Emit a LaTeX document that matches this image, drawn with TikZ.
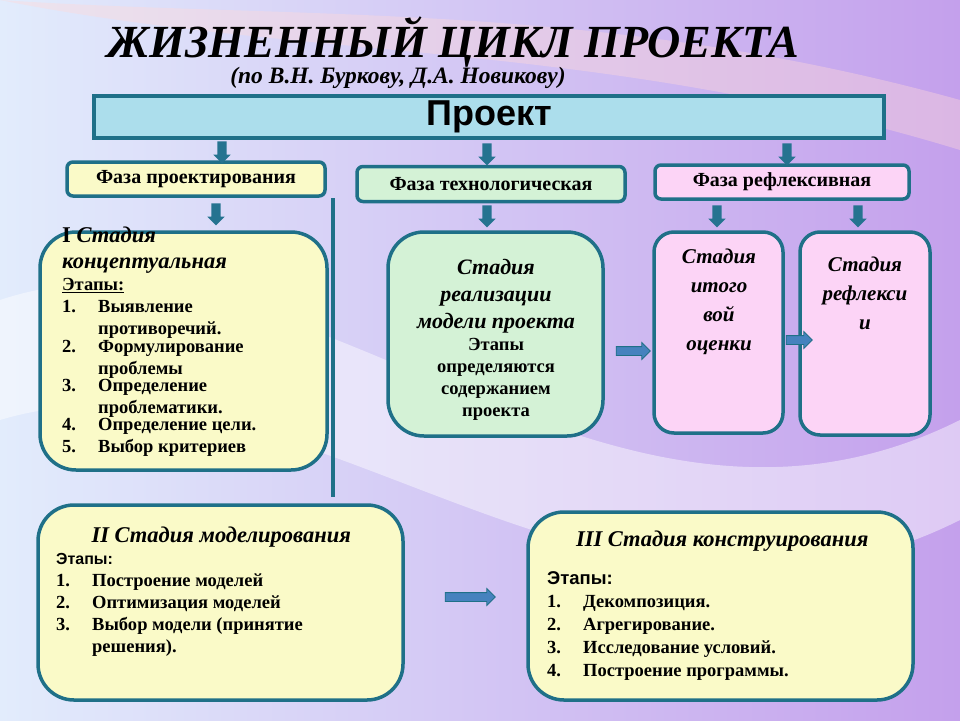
\documentclass[tikz,border=0pt]{standalone}
\usepackage{fontspec}
\setmainfont{Liberation Serif}
\newfontfamily\hsans{Liberation Sans}
\usetikzlibrary{shapes.arrows}
\definecolor{tealb}{RGB}{31,112,136}
\definecolor{yel}{RGB}{250,250,200}
\definecolor{grn}{RGB}{212,242,214}
\definecolor{pnk}{RGB}{252,212,246}
\definecolor{bar}{RGB}{172,222,236}
\definecolor{bgA}{RGB}{226,236,252}
\definecolor{bgB}{RGB}{196,160,236}
\definecolor{arw}{RGB}{70,130,190}
\tikzset{
 box/.style={draw=tealb,line width=3.5pt},
 phase/.style={box,rounded corners=6pt,font=\bfseries\fontsize{20}{22}\selectfont,align=center},
 stage/.style={box,rounded corners=36pt},
 darr/.style={single arrow,fill=tealb!85!arw,draw=none,minimum height=22pt,single arrow head extend=4pt,rotate=-90,inner sep=4.5pt},
 rarr/.style={single arrow,fill=arw,draw=tealb,line width=0.8pt,single arrow head extend=4pt,inner sep=4pt},
 txt/.style={font=\bfseries\fontsize{18.5}{22}\selectfont},
 ital/.style={font=\bfseries\itshape\fontsize{21}{29}\selectfont,align=center}
}
\newcommand{\itm}[2]{\makebox[36pt][l]{#1}\parbox[t]{240pt}{#2}}
\begin{document}
\begin{tikzpicture}[x=1pt,y=-1pt]
\shade[left color=bgA,right color=bgB] (0,0) rectangle (960,720);
\fill[white,opacity=0.45] (0,300) .. controls (300,200) and (600,600) .. (960,420) -- (960,520) .. controls (600,700) and (300,330) .. (0,420) -- cycle;
\fill[pink!60!white,opacity=0.4] (0,0) .. controls (300,60) and (600,40) .. (960,150) -- (960,100) .. controls (600,0) and (300,20) .. (0,0) -- cycle;
\useasboundingbox (0,0) rectangle (960,720);
\node (title) at (453,42) {\bfseries\itshape\fontsize{46}{48}\selectfont ЖИЗНЕННЫЙ ЦИКЛ ПРОЕКТА};
\node (sub) at (398,78) {\bfseries\itshape\fontsize{23.5}{26}\selectfont (по В.Н. Буркову, Д.А. Новикову)};
\node[box,fill=bar,minimum width=790pt,minimum height=42pt] (bar) at (489,117) {\hsans\bfseries\fontsize{36}{38}\selectfont Проект};
\node[phase,fill=yel,minimum width=258pt,minimum height=34pt] (p1) at (196,179) {Фаза проектирования};
\node[phase,fill=grn,minimum width=268pt,minimum height=35pt] (p2) at (491,184) {Фаза технологическая};
\node[phase,fill=pnk,minimum width=254pt,minimum height=34pt] (p3) at (782,182) {Фаза рефлексивная};
\node[darr] (a1) at (222,150) {};
\node[darr] (a2) at (487,152) {};
\node[darr] (a3) at (787,152) {};
\node[darr] (b1) at (216,212) {};
\node[darr] (b2) at (487,214) {};
\node[darr] (b3) at (717,214) {};
\node[darr] (b4) at (858,214) {};
\draw[tealb,line width=3.5pt] (333,198) coordinate (v1) -- (333,497) coordinate (v2);
% Stage I
\draw[stage,fill=yel] (40,232) rectangle (327,470);
\node[anchor=north west,txt,inner sep=0pt] (s1) at (62,227) {\begin{minipage}{300pt}
{\fontsize{22.5}{26}\selectfont\bfseries I \itshape Стадия\\ концептуальная\par}
\underline{Этапы:}\\
\itm{1.}{Выявление\\ противоречий.}\\
\itm{2.}{Формулирование\\ проблемы}\\
\itm{3.}{Определение\\ проблематики.}\\
\itm{4.}{Определение цели.}\\
\itm{5.}{Выбор критериев}
\end{minipage}};
% Tech stage
\draw[stage,fill=grn] (388,232) rectangle (603,436);
\node[inner sep=0pt] (s2) at (496,340) {\begin{minipage}{210pt}\centering
{\bfseries\itshape\fontsize{22}{27}\selectfont Стадия\\ реализации\\ модели проекта\par}
{\bfseries\fontsize{18.5}{22}\selectfont Этапы\\ определяются\\ содержанием\\ проекта\par}
\end{minipage}};
% pink
\draw[stage,fill=pnk,rounded corners=20pt] (654,232) rectangle (783,433);
\node[ital] (s3) at (719,302) {Стадия\\ итого\\ вой\\ оценки};
\draw[stage,fill=pnk,rounded corners=20pt] (800,232) rectangle (930,435);
\node[ital] (s4) at (865,293) {Стадия\\ рефлекси\\ и};
\node[rarr,minimum height=34pt] (r1) at (631,351) {};
\node[rarr,minimum height=26pt] (r2) at (797,340) {};
% Stage II
\draw[stage,fill=yel] (38,505) rectangle (403,700);
\node[anchor=north west,txt,inner sep=0pt] (s5) at (56,527) {\begin{minipage}{330pt}
\centering{\bfseries\itshape\fontsize{22.5}{24}\selectfont II Стадия моделирования\par}
\raggedright{\hsans\bfseries\fontsize{16}{18}\selectfont Этапы:}\\
\itm{1.}{Построение моделей}\\
\itm{2.}{Оптимизация моделей}\\
\itm{3.}{Выбор модели (принятие\\ решения).}
\end{minipage}};
% Stage III
\draw[stage,fill=yel] (528,512) rectangle (913,700);
\node[anchor=north west,txt,inner sep=0pt] (s6) at (547,531) {\begin{minipage}{350pt}
\centering{\bfseries\itshape\fontsize{22.5}{24}\selectfont III Стадия конструирования\par}\vspace{16pt}
\raggedright{\hsans\bfseries\fontsize{18.5}{22}\selectfont Этапы:}\\[1pt]
\itm{1.}{Декомпозиция.}\\[1pt]
\itm{2.}{Агрегирование.}\\[1pt]
\itm{3.}{Исследование условий.}\\[1pt]
\itm{4.}{Построение программы.}
\end{minipage}};
\node[rarr,minimum height=50pt] (r3) at (468,597) {};
\end{tikzpicture}
\end{document}
